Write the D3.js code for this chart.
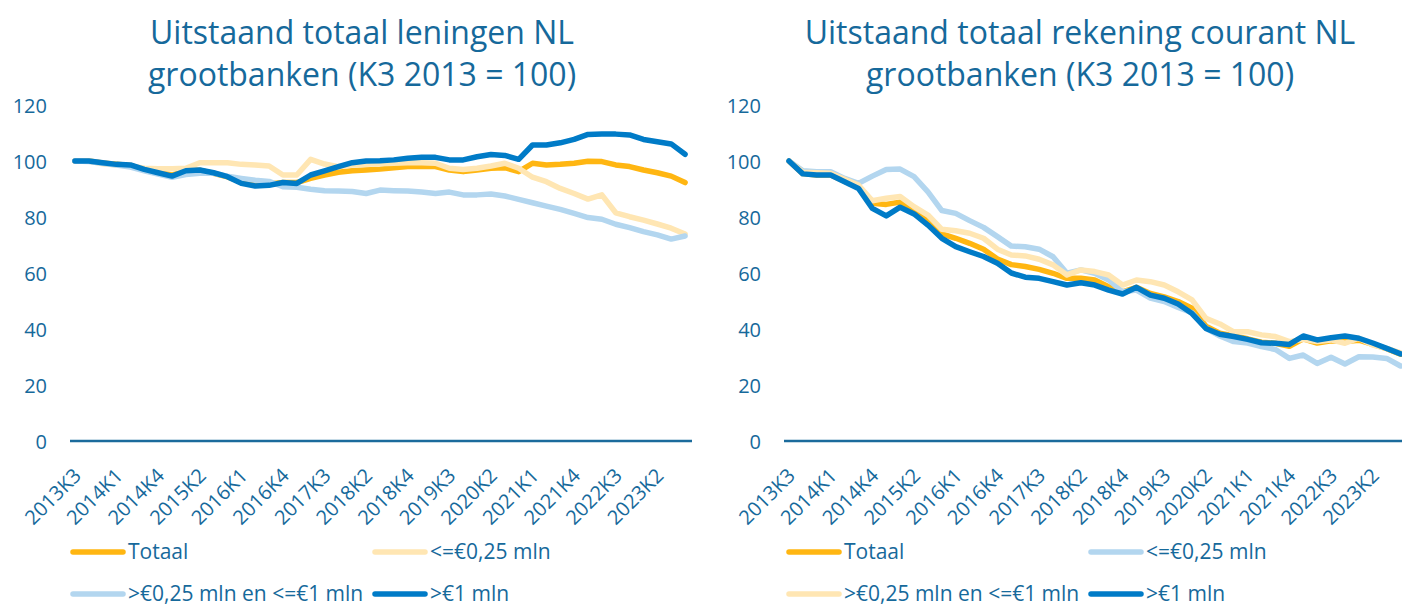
<!DOCTYPE html>
<html>
<head>
<meta charset="utf-8">
<script src="https://cdn.jsdelivr.net/npm/d3@7"></script>
<style>
    body { margin: 0; background: #fff; }
    svg { display: block; font-family: "Open Sans", sans-serif; }
</style>
</head>
<body>
<script>
// Wrap everything in one function so the variables stay local
(function(){

    // Tick labels shown on the category axis (every third point)
    var tickLabels = ["2013K3", "2014K1", "2014K4", "2015K2", "2016K1", "2016K4", "2017K3", "2018K2",
                      "2018K4", "2019K3", "2020K2", "2021K1", "2021K4", "2022K3", "2023K2"];

    // Left panel: outstanding loans (K3 2013 = 100)
    var loanTotaal = [100, 100, 99.3, 98.8, 98.4, 97, 96, 95, 96.6, 96.7, 95.6, 94.3, 92.5, 91.8, 91.8,
                      92.3, 92.3, 93.8, 95, 96, 96.5, 96.8, 97.1, 97.6, 98, 98, 98, 96.8, 96.2, 96.8,
                      97.4, 97.6, 96.2, 99.2, 98.6, 98.8, 99.2, 99.9, 99.8, 98.6, 98, 96.8, 95.8, 94.6, 92.3];
    var loanSmall = [100, 100, 99, 98.6, 98.2, 97.4, 97.2, 97.2, 97.4, 99.4, 99.4, 99.4, 98.8, 98.6, 98.2,
                     95, 95, 100.6, 98.9, 98, 98.6, 98.8, 99, 99.2, 99.4, 99.4, 99.2, 97.4, 97, 97.4,
                     98.2, 99.2, 97.4, 94.2, 92.6, 90.2, 88.4, 86.4, 87.9, 81.5, 80.1, 78.9, 77.5, 76, 73.9];
    var loanMid = [100, 99.8, 99.2, 98.6, 97.8, 96.5, 95.3, 94.2, 95.2, 95.6, 95.6, 94.6, 93.8, 93.1, 92.7,
                   90.8, 90.6, 89.9, 89.4, 89.3, 89.1, 88.4, 89.6, 89.4, 89.3, 88.9, 88.4, 88.9, 87.9, 87.9,
                   88.2, 87.5, 86.3, 85.1, 83.9, 82.7, 81.3, 79.8, 79.2, 77.4, 76.2, 74.8, 73.6, 72.1, 73.2];
    var loanLarge = [100, 100, 99.4, 98.8, 98.6, 97, 95.8, 94.6, 96.5, 96.8, 95.8, 94.4, 92, 91.1, 91.3,
                     92.3, 92, 95, 96.5, 98, 99.4, 100, 100.1, 100.4, 101, 101.3, 101.3, 100.4, 100.4, 101.5,
                     102.3, 102, 100.6, 105.7, 105.7, 106.5, 107.7, 109.5, 109.6, 109.6, 109.3, 107.7, 106.9, 106.1, 102.4];

    // Right panel: outstanding current account (K3 2013 = 100)
    var rcTotaal = [100, 95.5, 95, 95, 92.8, 90.5, 84.9, 84.5, 85.3, 82.3, 78.7, 74, 72.4, 70.6, 68.5,
                    65, 63, 62.3, 61.3, 59.9, 58.1, 58.1, 57.5, 55.1, 53.3, 54.9, 52.7, 51.5, 49.8, 47.4,
                    41, 38.5, 37.5, 36.5, 35.3, 34.9, 33.8, 36.5, 35, 35.8, 35.5, 36, 34.5, 33, 31];
    var rcSmall = [100, 96.5, 96.2, 96.2, 93.8, 92, 94.6, 97, 97.1, 94.4, 89, 82.3, 81.3, 78.7, 76.3,
                   73, 69.6, 69.4, 68.5, 65.8, 59.9, 61.1, 59.9, 57.5, 53.3, 53.9, 51, 49.8, 47.7, 45.8,
                   40.2, 37.5, 35.5, 35, 33.7, 32.7, 29.5, 30.7, 27.7, 29.9, 27.5, 30.1, 30, 29.5, 26.8];
    var rcMid = [100, 96, 95.8, 95.6, 93.5, 91.4, 85.8, 86.7, 87.3, 83.7, 80.7, 75.6, 75.1, 74.2, 72.4,
                 68.5, 66.4, 66.1, 64.9, 62.9, 59.3, 61.1, 60.5, 59.3, 55.7, 57.5, 56.9, 55.7, 53.3, 50.4,
                 43.8, 41.8, 39, 39, 37.9, 37.3, 35.5, 36.3, 35.5, 36.1, 34.9, 36.7, 34.3, 33.1, 31.5];
    var rcLarge = [100, 95.4, 95, 95, 92.6, 90.2, 83.1, 80.4, 83.5, 81.1, 77.1, 72.4, 69.4, 67.6, 65.9,
                   63.5, 60, 58.5, 58.1, 56.9, 55.7, 56.5, 55.7, 53.9, 52.5, 54.9, 52.1, 51, 48.9, 45.5,
                   40.2, 38.1, 37.3, 36.3, 35.1, 34.9, 34.5, 37.5, 36.1, 36.9, 37.5, 36.7, 35, 33.1, 31.1];

    // Series names, in legend (and drawing) order
    var seriesNames = ["Totaal", "<=€0,25 mln", ">€0,25 mln en <=€1 mln", ">€1 mln"];
    var yTicks = [0, 20, 40, 60, 80, 100, 120];

    // Colours
    var textColor = "#16699b";
    var orange = "#ffb612",
        paleYellow = "#ffe6b3",
        paleBlue = "#b3d6ef",
        darkBlue = "#007bc7";

    var width = 1402,
        height = 607;

    var svg = d3.select("body")
        .append("svg")
        .attr("width", width)
        .attr("height", height);

    // Left panel
    drawPanel({
        title: ["Uitstaand totaal leningen NL", "grootbanken (K3 2013 = 100)"],
        titleX: 362,
        x0: 68, x1: 692,
        labelX: 47,
        series: [loanTotaal, loanSmall, loanMid, loanLarge],
        colors: [orange, paleYellow, paleBlue, darkBlue],
        legendX: [70, 372]
    });

    // Right panel (the two small-size colours are swapped here)
    drawPanel({
        title: ["Uitstaand totaal rekening courant NL", "grootbanken (K3 2013 = 100)"],
        titleX: 1080,
        x0: 782, x1: 1407.5,
        labelX: 761,
        series: [rcTotaal, rcSmall, rcMid, rcLarge],
        colors: [orange, paleBlue, paleYellow, darkBlue],
        legendX: [786, 1088]
    });

    function drawPanel(opt) {
        var g = svg.append("g");
        var n = opt.series[0].length;

        // Category scale: points in the middle of each band
        var x = d3.scalePoint()
            .domain(d3.range(n))
            .range([opt.x0, opt.x1])
            .padding(0.5);

        var y = d3.scaleLinear()
            .domain([0, 120])
            .range([441, 105]);

        // Title, two lines
        g.append("text")
            .attr("x", opt.titleX)
            .attr("text-anchor", "middle")
            .attr("fill", textColor)
            .style("font-size", "32px")
            .selectAll("tspan")
            .data(opt.title)
            .enter()
            .append("tspan")
            .attr("x", opt.titleX)
            .attr("y", function(d, i){ return 44 + i * 42; })
            .text(function(d){ return d; });

        // Value axis, labels only
        var yAxis = g.append("g")
            .attr("transform", "translate(" + opt.labelX + ",0)")
            .call(d3.axisLeft(y).tickValues(yTicks).tickSize(0).tickPadding(0));
        yAxis.select(".domain").remove();
        yAxis.selectAll("text")
            .attr("fill", textColor)
            .attr("dy", "0.35em")
            .style("font-size", "20px")
            .style("font-family", "Open Sans, sans-serif");

        // Category axis line and rotated labels
        var xAxis = g.append("g")
            .attr("transform", "translate(0," + y(0) + ")")
            .call(d3.axisBottom(x)
                .tickValues(d3.range(0, n, 3))
                .tickFormat(function(i){ return tickLabels[i / 3]; })
                .tickSize(0)
                .tickPadding(0));
        xAxis.select(".domain")
            .attr("d", "M" + (opt.x0 + 2) + ",0H" + opt.x1)
            .attr("stroke", "#1b6b9c")
            .attr("stroke-width", 2.5);
        xAxis.selectAll("text")
            .attr("fill", textColor)
            .attr("text-anchor", "end")
            .attr("dy", null)
            .attr("transform", "translate(7,36) rotate(-45)")
            .style("font-size", "20px")
            .style("font-family", "Open Sans, sans-serif");

        // Lines, drawn in series order so >€1 mln ends on top
        var line = d3.line()
            .x(function(d, i){ return x(i); })
            .y(function(d){ return y(d); });

        g.selectAll(".series")
            .data(opt.series)
            .enter()
            .append("path")
            .attr("class", "series")
            .attr("fill", "none")
            .attr("stroke", function(d, i){ return opt.colors[i]; })
            .attr("stroke-width", 5.5)
            .attr("stroke-linejoin", "round")
            .attr("stroke-linecap", "round")
            .attr("d", line);

        // Legend, two rows of two
        var legend = g.selectAll(".legend")
            .data(seriesNames)
            .enter()
            .append("g")
            .attr("class", "legend")
            .attr("transform", function(d, i){
                return "translate(" + opt.legendX[i % 2] + "," + (552 + Math.floor(i / 2) * 42) + ")";
            });
        legend.append("line")
            .attr("x1", 3).attr("x2", 53)
            .attr("stroke", function(d, i){ return opt.colors[i]; })
            .attr("stroke-width", 5.5)
            .attr("stroke-linecap", "round");
        legend.append("text")
            .attr("x", 58)
            .attr("dy", "0.35em")
            .attr("fill", textColor)
            .style("font-size", "21px")
            .text(function(d){ return d; });
    }

})();
</script>
</body>
</html>
